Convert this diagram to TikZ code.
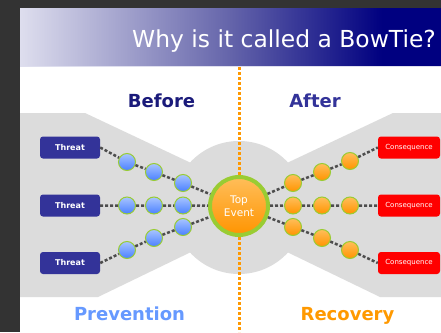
\documentclass[tikz,border=0pt]{standalone}
\usepackage{fontspec}
\setmainfont{DejaVu Sans}
\definecolor{bgdark}{HTML}{333333}
\definecolor{hdrA}{HTML}{DEDEEE}
\definecolor{hdrB}{HTML}{6464AA}
\definecolor{hdrC}{HTML}{000080}
\definecolor{bowgray}{HTML}{DCDCDC}
\definecolor{threatblue}{HTML}{333399}
\definecolor{consred}{HTML}{FF0000}
\definecolor{ringgreen}{HTML}{99CC33}
\definecolor{bluetop}{HTML}{A8C4FF}
\definecolor{bluebot}{HTML}{4A80FF}
\definecolor{orangetop}{HTML}{FFBE5A}
\definecolor{orangebot}{HTML}{FF9400}
\definecolor{linkgray}{HTML}{4D4D4D}
\definecolor{dotorange}{HTML}{FF9900}
\definecolor{beforeblue}{HTML}{1A1A7A}
\definecolor{afterblue}{HTML}{333399}
\definecolor{prevblue}{HTML}{6699FF}
\definecolor{recorange}{HTML}{FF9900}
\pgfdeclarehorizontalshading{hdrshade}{100bp}{color(0bp)=(hdrA); color(25bp)=(hdrA); color(50bp)=(hdrB); color(68bp)=(hdrC); color(100bp)=(hdrC)}
\begin{document}
\begin{tikzpicture}[x=1pt,y=-1pt,
  threatbox/.style={rectangle, rounded corners=3pt, fill=threatblue, minimum width=60pt, minimum height=22pt, inner sep=0pt, text=white, font=\fontsize{8}{9}\selectfont\bfseries},
  consbox/.style={rectangle, rounded corners=3pt, fill=consred, minimum width=62pt, minimum height=22pt, inner sep=0pt, text=white, font=\fontsize{7}{8}\selectfont},
  bball/.style={circle, minimum size=17pt, inner sep=0pt, draw=ringgreen, line width=1pt, top color=bluetop, bottom color=bluebot},
  oball/.style={circle, minimum size=17pt, inner sep=0pt, draw=ringgreen, line width=1pt, top color=orangetop, bottom color=orangebot},
  topev/.style={circle, minimum size=58pt, inner sep=0pt, draw=ringgreen, line width=4pt, top color=orangetop, bottom color=orangebot, text=white, align=center, font=\fontsize{10.5}{13}\selectfont},
  link/.style={draw=linkgray, line width=2.5pt, dash pattern=on 3pt off 2pt},
  orangedots/.style={draw=dotorange, line width=3pt, dash pattern=on 2.5pt off 2.5pt},
  sidelabel/.style={anchor=base, inner sep=0pt, font=\fontsize{18}{20}\selectfont\bfseries}
]
\clip (0,0) rectangle (441,332);
\fill[bgdark] (0,0) rectangle (441,332);
\fill[white] (20,8) rectangle (441,332);
\shade[shading=hdrshade] (20,8) rectangle (441,66);
\draw[hdrA, line width=1pt] (20,66.5) -- (441,66.5);
\node[anchor=base west, inner sep=0pt, text=white, font=\fontsize{23.4}{28}\selectfont] (title) at (132,47) {Why is it called a BowTie?};

% bow tie background
\fill[bowgray] (20,113) -- (85,113) -- (190,162.5) -- (288,162.5) -- (393,113) -- (441,113) -- (441,297) -- (380,297) -- (288,252.5) -- (190,252.5) -- (98,297) -- (20,297) -- cycle;
\fill[bowgray] (239,207.5) circle[radius=66.5pt];

% vertical divider
\coordinate (divtop) at (239,67);
\coordinate (divbot) at (239,332);
\draw[orangedots] (divtop) -- (divbot);

% labels
\node[sidelabel, text=beforeblue] (before) at (161.5,107) {Before};
\node[sidelabel, text=afterblue] (after) at (315,107) {After};
\node[sidelabel, text=prevblue] (prevention) at (129.5,320) {Prevention};
\node[sidelabel, text=recorange] (recovery) at (347.5,320) {Recovery};

% threats and consequences
\node[threatbox] (t1) at (70,147.5) {Threat};
\node[threatbox] (t2) at (70,205.5) {Threat};
\node[threatbox] (t3) at (70,263) {Threat};
\node[consbox] (c1) at (409,147.5) {Consequence};
\node[consbox] (c2) at (409,205.5) {Consequence};
\node[consbox] (c3) at (409,263) {Consequence};

% top event
\node[topev] (top) at (239,206) {Top\\Event};

% barriers
\node[bball] (b11) at (127,162) {};
\node[bball] (b12) at (154,172) {};
\node[bball] (b13) at (183,183) {};
\node[bball] (b21) at (127,205.5) {};
\node[bball] (b22) at (154,205.5) {};
\node[bball] (b23) at (183,205.5) {};
\node[bball] (b31) at (127,250) {};
\node[bball] (b32) at (154,238) {};
\node[bball] (b33) at (183,227) {};
\node[oball] (o11) at (293,183) {};
\node[oball] (o12) at (322,172) {};
\node[oball] (o13) at (350,161) {};
\node[oball] (o21) at (293,205.5) {};
\node[oball] (o22) at (322,205.5) {};
\node[oball] (o23) at (350,205.5) {};
\node[oball] (o31) at (293,227) {};
\node[oball] (o32) at (322,238) {};
\node[oball] (o33) at (350,250) {};

% connectors
\draw[link] (t1.east) -- (b11) -- (b12) -- (b13) -- (top);
\draw[link] (t2.east) -- (b21) -- (b22) -- (b23) -- (top);
\draw[link] (t3.east) -- (b31) -- (b32) -- (b33) -- (top);
\draw[link] (top) -- (o11) -- (o12) -- (o13) -- (c1.west);
\draw[link] (top) -- (o21) -- (o22) -- (o23) -- (c2.west);
\draw[link] (top) -- (o31) -- (o32) -- (o33) -- (c3.west);
\end{tikzpicture}
\end{document}
